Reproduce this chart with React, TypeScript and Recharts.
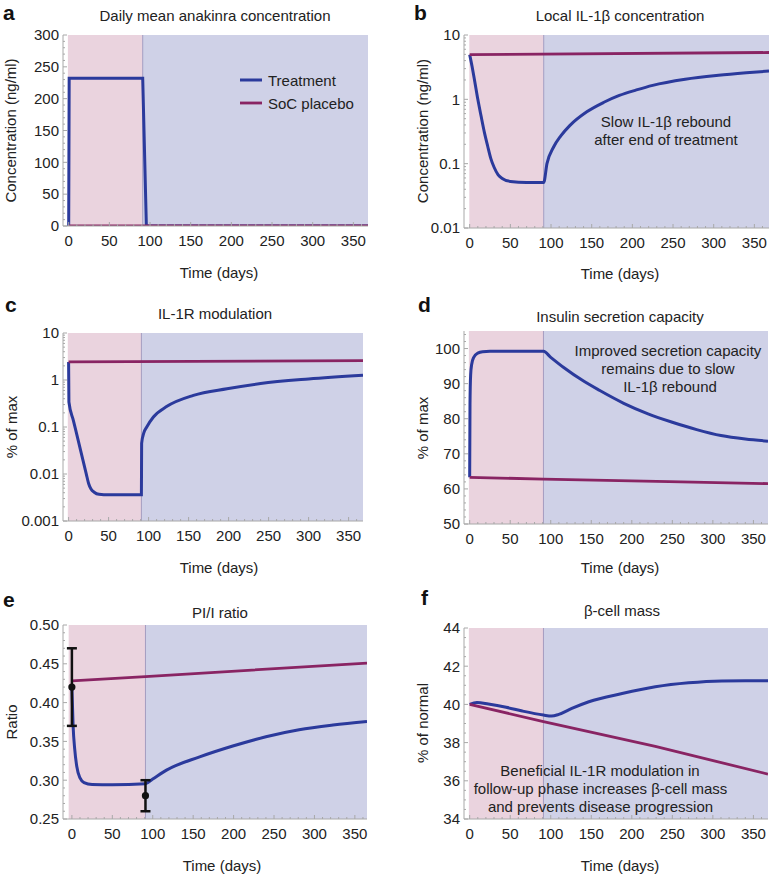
import React from 'react';
import {
  ComposedChart,
  Line,
  XAxis,
  YAxis,
  ReferenceArea,
  ReferenceLine,
  Scatter,
  ErrorBar,
} from 'recharts';

const FONT = '"Liberation Sans", Arial, Helvetica, sans-serif';
const BLUE = '#2b3a9c';
const PURPLE = '#892463';
const PINK = '#ead3de';
const LAV = '#cfd1e7';
const AXIS = '#a8a8a8';
const TXT = '#222';

// ---------- shared ----------
const xTickLabels = [0, 50, 100, 150, 200, 250, 300, 350];
const treatmentEnd = 91;

// ---------- panel a: Daily mean anakinra concentration ----------
const aTreatDays = [0, 0.6, 91, 95.5, 368];
const aTreatVals = [0, 232, 232, 0, 0];
const aPlaceboDays = [0, 368];
const aPlaceboVals = [0, 0];
const aYTicks = [0, 50, 100, 150, 200, 250, 300];
const aYLabels = ['0', '50', '100', '150', '200', '250', '300'];

// ---------- panel b: Local IL-1β concentration ----------
const bTreatDays = [0, 3, 6, 10, 14, 18, 22, 26, 30, 35, 40, 50, 70, 91, 95, 103, 112, 123, 144, 165, 184, 205, 225, 265, 306, 340, 368];
const bTreatVals = [4.95, 3.2, 1.97, 1.0, 0.55, 0.31, 0.19, 0.12, 0.088, 0.067, 0.059, 0.053, 0.051, 0.051, 0.1, 0.18, 0.27, 0.39, 0.64, 0.9, 1.15, 1.4, 1.65, 2.05, 2.36, 2.58, 2.75];
const bPlaceboDays = [0, 368];
const bPlaceboVals = [4.95, 5.35];
const bYTicks = [0.01, 0.1, 1, 10];
const bYLabels = ['0.01', '0.1', '1', '10'];

// ---------- panel c: IL-1R modulation ----------
const cTreatDays = [0, 0.4, 6, 12, 18, 22, 25, 28, 32, 38, 50, 91, 91.3, 94, 97.7, 106, 123, 156, 198, 240, 300, 368];
const cTreatVals = [2.42, 0.34, 0.137, 0.052, 0.0195, 0.0102, 0.0063, 0.0048, 0.0041, 0.0037, 0.0036, 0.0036, 0.045, 0.075, 0.1, 0.163, 0.275, 0.47, 0.65, 0.84, 1.05, 1.26];
const cPlaceboDays = [0, 368];
const cPlaceboVals = [2.42, 2.58];
const cYTicks = [0.001, 0.01, 0.1, 1, 10];
const cYLabels = ['0.001', '0.01', '0.1', '1', '10'];

// ---------- panel d: Insulin secretion capacity ----------
const dTreatDays = [0, 0.4, 1.2, 2.5, 5, 10, 16, 25, 91, 100, 116, 140, 160, 190, 220, 250, 280, 310, 340, 368];
const dTreatVals = [63.3, 84, 92.5, 95.5, 97.5, 98.7, 99.1, 99.2, 99.2, 97.5, 94.6, 90.8, 88.1, 84.4, 81.4, 79.0, 76.9, 75.2, 74.2, 73.6];
const dPlaceboDays = [0, 91, 246, 368];
const dPlaceboVals = [63.3, 62.8, 62.1, 61.5];
const dYTicks = [50, 60, 70, 80, 90, 100];
const dYLabels = ['50', '60', '70', '80', '90', '100'];

// ---------- panel e: PI/I ratio ----------
const eTreatDays = [0, 1.5, 3.5, 6, 10, 15, 25, 50, 91, 100, 117, 158, 199, 240, 281, 323, 365];
const eTreatVals = [0.42, 0.37, 0.34, 0.318, 0.303, 0.297, 0.2945, 0.2942, 0.2955, 0.3015, 0.313, 0.33, 0.344, 0.356, 0.365, 0.371, 0.3755];
const ePlaceboDays = [0, 91, 365];
const ePlaceboVals = [0.428, 0.4335, 0.451];
const eObsDays = [0, 91];
const eObsVals = [0.42, 0.28];
const eObsErr = [0.05, 0.02];
const eYTicks = [0.25, 0.3, 0.35, 0.4, 0.45, 0.5];
const eYLabels = ['0.25', '0.30', '0.35', '0.40', '0.45', '0.50'];

// ---------- panel f: β-cell mass ----------
const fTreatDays = [0, 9, 23, 45, 65, 91, 101, 110, 126, 147, 188, 229, 270, 311, 340, 368];
const fTreatVals = [40.0, 40.1, 40.02, 39.85, 39.65, 39.44, 39.39, 39.48, 39.79, 40.14, 40.57, 40.92, 41.13, 41.23, 41.24, 41.24];
const fPlaceboDays = [0, 91, 229, 368];
const fPlaceboVals = [40.0, 39.1, 37.8, 36.35];
const fYTicks = [34, 36, 38, 40, 42, 44];
const fYLabels = ['34', '36', '38', '40', '42', '44'];

// ---------- helpers ----------
const toPts = (days: number[], vals: number[]) => days.map((t, i) => ({ t, v: vals[i] }));

const near = (a: number, b: number) => Math.abs(a - b) < 1e-9 * Math.max(1, Math.abs(b));

function xTickList() {
  const out: number[] = [];
  for (let i = 0; i <= 36; i++) out.push(i * 10);
  return out;
}

function linMinor(majors: number[], step: number) {
  const out: number[] = [];
  const lo = majors[0];
  const hi = majors[majors.length - 1];
  const n = Math.round((hi - lo) / step);
  for (let i = 0; i <= n; i++) out.push(+(lo + i * step).toFixed(6));
  return out;
}

function logMinor(majors: number[]) {
  const out: number[] = [];
  majors.forEach((m, idx) => {
    out.push(m);
    if (idx < majors.length - 1) for (let k = 2; k <= 9; k++) out.push(+(m * k).toPrecision(6));
  });
  return out;
}

function XTick(props: any) {
  const { x, y, payload } = props;
  const v = payload.value;
  const major = xTickLabels.some((m) => near(m, v));
  return (
    <g>
      <line x1={x} y1={y} x2={x} y2={y - (major ? 4 : 2)} stroke={AXIS} strokeWidth={1} />
      {major && (
        <text x={x} y={y + 20} textAnchor="middle" fontSize={15} fontFamily={FONT} fill={TXT}>
          {v}
        </text>
      )}
    </g>
  );
}

function makeYTick(majors: number[], labels: string[]) {
  return (props: any) => {
    const { x, y, payload } = props;
    const v = payload.value;
    const idx = majors.findIndex((m) => near(m, v));
    const major = idx >= 0;
    return (
      <g>
        <line x1={x} y1={y} x2={x + (major ? 4 : 2)} y2={y} stroke={AXIS} strokeWidth={1} />
        {major && (
          <text x={x - 4} y={y + 5.3} textAnchor="end" fontSize={15} fontFamily={FONT} fill={TXT}>
            {labels[idx]}
          </text>
        )}
      </g>
    );
  };
}

type PanelProps = {
  left: number;
  top: number;
  width: number;
  height: number;
  mTop: number;
  mRight: number;
  xHeight: number;
  xDomain: [number, number];
  pinkStart: number;
  yDomain: [number, number];
  yLog?: boolean;
  yMajors: number[];
  yLabels: string[];
  yAll: number[];
  treat: { t: number; v: number }[];
  placebo: { t: number; v: number }[];
  treatCurve?: 'linear' | 'monotone';
  obs?: { t: number; v: number; err: number }[];
};

function Panel(p: PanelProps) {
  return (
    <div style={{ position: 'absolute', left: p.left, top: p.top, width: p.width, height: p.height }}>
      <ComposedChart
        width={p.width}
        height={p.height}
        margin={{ top: p.mTop, right: p.mRight, left: 0, bottom: 0 }}
      >
        <XAxis
          type="number"
          dataKey="t"
          domain={p.xDomain}
          allowDataOverflow
          ticks={xTickList()}
          interval={0}
          tickSize={0}
          tickMargin={0}
          tickLine={false}
          tick={XTick}
          axisLine={{ stroke: AXIS, strokeWidth: 1 }}
          height={p.xHeight}
        />
        <YAxis
          type="number"
          dataKey="v"
          scale={p.yLog ? 'log' : 'linear'}
          domain={p.yDomain}
          allowDataOverflow
          ticks={p.yAll}
          interval={0}
          tickSize={0}
          tickMargin={0}
          tickLine={false}
          tick={makeYTick(p.yMajors, p.yLabels)}
          axisLine={{ stroke: AXIS, strokeWidth: 1 }}
          width={63}
        />
        <ReferenceArea x1={p.pinkStart} x2={treatmentEnd} fill={PINK} fillOpacity={1} stroke="none" ifOverflow="hidden" />
        <ReferenceArea x1={treatmentEnd} x2={p.xDomain[1]} fill={LAV} fillOpacity={1} stroke="none" ifOverflow="hidden" />
        <ReferenceLine x={treatmentEnd} stroke="#a49cc0" strokeWidth={1} ifOverflow="hidden" />
        <Line
          data={p.treat}
          dataKey="v"
          type={p.treatCurve || 'monotone'}
          stroke={BLUE}
          strokeWidth={3}
          dot={false}
          activeDot={false}
          isAnimationActive={false}
        />
        <Line
          data={p.placebo}
          dataKey="v"
          type="linear"
          stroke={PURPLE}
          strokeWidth={2.8}
          dot={false}
          activeDot={false}
          isAnimationActive={false}
        />
        {p.obs && (
          <Scatter
            data={p.obs}
            dataKey="v"
            fill="#111"
            isAnimationActive={false}
            shape={(s: any) => <circle cx={s.cx} cy={s.cy} r={3.6} fill="#111" />}
          >
            <ErrorBar dataKey="err" direction="y" width={5} strokeWidth={2.5} stroke="#111" />
          </Scatter>
        )}
      </ComposedChart>
    </div>
  );
}

const ST = { fontFamily: FONT, fontSize: 15, fill: TXT } as const;

function Overlay() {
  const ylab = (x: number, y: number, s: string) => (
    <text x={x} y={y} transform={`rotate(-90 ${x} ${y})`} textAnchor="middle" dominantBaseline="central" {...ST}>
      {s}
    </text>
  );
  const ctext = (x: number, y: number, s: string, extra: any = {}) => (
    <text x={x} y={y} textAnchor="middle" dominantBaseline="central" {...ST} {...extra}>
      {s}
    </text>
  );
  const letter = (x: number, y: number, s: string) => (
    <text x={x} y={y} fontFamily={FONT} fontSize={21} fontWeight="bold" fill="#111">
      {s}
    </text>
  );
  return (
    <svg
      width={777}
      height={876}
      style={{ position: 'absolute', left: 0, top: 0, pointerEvents: 'none' }}
    >
      {letter(3, 20, 'a')}
      {letter(414, 19.5, 'b')}
      {letter(5, 311.5, 'c')}
      {letter(418, 311.5, 'd')}
      {letter(3, 606.5, 'e')}
      {letter(421, 605, 'f')}

      {ctext(215, 15, 'Daily mean anakinra concentration')}
      {ctext(620, 15, 'Local IL-1β concentration')}
      {ctext(215, 313.5, 'IL-1R modulation')}
      {ctext(620, 316.5, 'Insulin secretion capacity')}
      {ctext(220, 612, 'PI/I ratio')}
      {ctext(622, 610, 'β-cell mass')}

      {ylab(10, 130.5, 'Concentration (ng/ml)')}
      {ylab(422, 131, 'Concentration (ng/ml)')}
      {ylab(11, 427, '% of max')}
      {ylab(422, 428, '% of max')}
      {ylab(11, 722, 'Ratio')}
      {ylab(422, 723, '% of normal')}

      {ctext(219, 272, 'Time (days)')}
      {ctext(620, 273, 'Time (days)')}
      {ctext(219, 567, 'Time (days)')}
      {ctext(620, 567, 'Time (days)')}
      {ctext(222, 865, 'Time (days)')}
      {ctext(620, 865, 'Time (days)')}

      <line x1={240} y1={80} x2={262} y2={80} stroke={BLUE} strokeWidth={3} />
      <text x={268} y={80} dominantBaseline="central" {...ST}>Treatment</text>
      <line x1={240} y1={103} x2={262} y2={103} stroke={PURPLE} strokeWidth={2.8} />
      <text x={268} y={103} dominantBaseline="central" {...ST}>SoC placebo</text>

      {ctext(666, 121, 'Slow IL-1β rebound')}
      {ctext(666, 139.5, 'after end of treatment')}

      {ctext(668, 350, 'Improved secretion capacity')}
      {ctext(668, 368.3, 'remains due to slow')}
      {ctext(670, 386.7, 'IL-1β rebound')}

      {ctext(600, 770.7, 'Beneficial IL-1R modulation in')}
      {ctext(600.5, 788.3, 'follow-up phase increases β-cell mass')}
      {ctext(600.5, 806.7, 'and prevents disease progression')}
    </svg>
  );
}

export default function App() {
  const obs = eObsDays.map((t, i) => ({ t, v: eObsVals[i], err: eObsErr[i] }));
  return (
    <div
      style={{
        position: 'absolute',
        left: 0,
        top: 0,
        width: 777,
        height: 876,
        background: '#fff',
        overflow: 'hidden',
        fontFamily: FONT,
      }}
    >
      <Panel
        left={0} top={0} width={380} height={286} mTop={35} mRight={12} xHeight={60}
        xDomain={[-7, 368]} pinkStart={-1}
        yDomain={[0, 300]} yMajors={aYTicks} yLabels={aYLabels} yAll={linMinor(aYTicks, 10)}
        treat={toPts(aTreatDays, aTreatVals)} placebo={toPts(aPlaceboDays, aPlaceboVals)} treatCurve="linear"
      />
      <Panel
        left={401} top={0} width={376} height={288} mTop={35} mRight={8} xHeight={60}
        xDomain={[-7, 368]} pinkStart={-0.5}
        yDomain={[0.01, 10]} yLog yMajors={bYTicks} yLabels={bYLabels} yAll={logMinor(bYTicks)}
        treat={toPts(bTreatDays, bTreatVals)} placebo={toPts(bPlaceboDays, bPlaceboVals)}
      />
      <Panel
        left={0} top={290} width={380} height={291} mTop={43} mRight={17} xHeight={60}
        xDomain={[-7, 368]} pinkStart={-1}
        yDomain={[0.001, 10]} yLog yMajors={cYTicks} yLabels={cYLabels} yAll={logMinor(cYTicks)}
        treat={toPts(cTreatDays, cTreatVals)} placebo={toPts(cPlaceboDays, cPlaceboVals)}
      />
      <Panel
        left={401} top={290} width={376} height={294} mTop={41} mRight={9} xHeight={60}
        xDomain={[-7, 368]} pinkStart={-1}
        yDomain={[50, 105]} yMajors={dYTicks} yLabels={dYLabels} yAll={linMinor([50, 104], 2)}
        treat={toPts(dTreatDays, dTreatVals)} placebo={toPts(dPlaceboDays, dPlaceboVals)}
      />
      <Panel
        left={0} top={580} width={380} height={296} mTop={45} mRight={13} xHeight={57}
        xDomain={[-11, 365]} pinkStart={-4}
        yDomain={[0.25, 0.5]} yMajors={eYTicks} yLabels={eYLabels} yAll={linMinor(eYTicks, 0.01)}
        treat={toPts(eTreatDays, eTreatVals)} placebo={toPts(ePlaceboDays, ePlaceboVals)}
        obs={obs}
      />
      <Panel
        left={401} top={580} width={376} height={296} mTop={48} mRight={9} xHeight={57}
        xDomain={[-7, 368]} pinkStart={-1}
        yDomain={[34, 44]} yMajors={fYTicks} yLabels={fYLabels} yAll={linMinor(fYTicks, 0.5)}
        treat={toPts(fTreatDays, fTreatVals)} placebo={toPts(fPlaceboDays, fPlaceboVals)}
      />
      <Overlay />
    </div>
  );
}
